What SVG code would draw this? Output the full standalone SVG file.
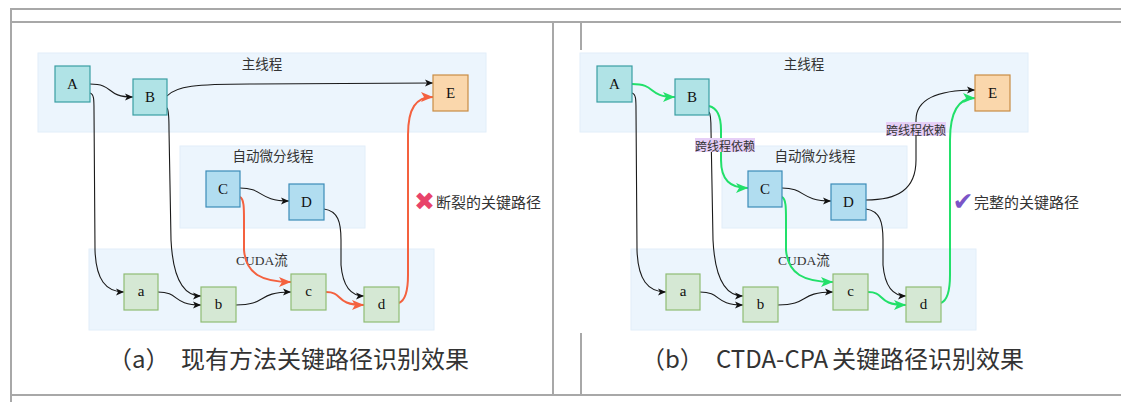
<svg xmlns="http://www.w3.org/2000/svg" width="1121" height="402" viewBox="0 0 1121 402">
<style>
.frame{stroke:#a8a8a8;stroke-width:2;fill:none}
.region{fill:#ecf5fd;stroke:#e2eef9;stroke-width:1}
.rt{font-family:"Liberation Serif","Noto Sans CJK SC",serif;font-size:13.5px;fill:#333;text-anchor:middle}
.teal{fill:#b0e3e6;stroke:#3a9ea3;stroke-width:1.2}
.blue{fill:#b1ddf0;stroke:#3b8cb8;stroke-width:1.2}
.grn{fill:#d5e8d4;stroke:#8fbc74;stroke-width:1.2}
.org{fill:#fad7ac;stroke:#c98d45;stroke-width:1.2}
.nl{font-family:"Liberation Serif",serif;font-size:15px;fill:#111;text-anchor:middle;dominant-baseline:central}
.edge{fill:none;stroke:#1a1a1a;stroke-width:1.1}
.red{fill:none;stroke:#f4613f;stroke-width:2}
.green{fill:none;stroke:#22e06a;stroke-width:2}
.tag{fill:#e6cff7}
.tagt{font-family:"Noto Sans CJK SC",sans-serif;font-size:12px;fill:#333;text-anchor:middle;dominant-baseline:central}
.leg{font-family:"Noto Sans CJK SC",sans-serif;font-size:15px;fill:#333;dominant-baseline:central}
.cap{font-family:"Noto Sans CJK SC",sans-serif;font-size:24px;fill:#333;dominant-baseline:central}
.ico{font-family:"DejaVu Sans",sans-serif;font-size:25px;text-anchor:middle;dominant-baseline:central}
</style>
<defs>
<marker id="ah" markerUnits="userSpaceOnUse" markerWidth="9" markerHeight="9" refX="8" refY="4" orient="auto"><path d="M0,0.5 L8,4 L0,7.5 L2,4 z" fill="#111"/></marker>
<marker id="ahR" markerUnits="userSpaceOnUse" markerWidth="13" markerHeight="12" refX="12" refY="5.5" orient="auto"><path d="M0,0.5 L12,5.5 L0,10.5 L3,5.5 z" fill="#f4613f"/></marker>
<marker id="ahG" markerUnits="userSpaceOnUse" markerWidth="13" markerHeight="12" refX="12" refY="5.5" orient="auto"><path d="M0,0.5 L12,5.5 L0,10.5 L3,5.5 z" fill="#22e06a"/></marker>
</defs>

<g id="frame">
<line class="frame" x1="10" y1="9" x2="1121" y2="9"/>
<line class="frame" x1="10" y1="22" x2="1121" y2="22"/>
<line class="frame" x1="10" y1="395" x2="1121" y2="395"/>
<line class="frame" x1="11" y1="9" x2="11" y2="402"/>
<line class="frame" x1="553" y1="22" x2="553" y2="395"/>
<line class="frame" x1="581" y1="22" x2="581" y2="50"/>
<line class="frame" x1="581" y1="333" x2="581" y2="395"/>
</g>

<!-- Panel (a) -->
<g id="panel-a">
<g id="a-main-thread"><rect class="region" x="38" y="53" width="448" height="79"/><text class="rt" x="262" y="69">主线程</text></g>
<g id="a-autodiff-thread"><rect class="region" x="180" y="146" width="185" height="82"/><text class="rt" x="273" y="161">自动微分线程</text></g>
<g id="a-cuda-stream"><rect class="region" x="89" y="249" width="345" height="81"/><text class="rt" x="262" y="265">CUDA流</text></g>

<g id="a-edges">
<path class="edge" d="M90,84 C115,84 105,97 133,97" marker-end="url(#ah)"/>
<path class="edge" d="M167,96 C176,86 196,84 250,84 L433,83" marker-end="url(#ah)"/>
<path class="edge" d="M90,93 C94,94 94,100 94,110 L95,250 C96,280 106,292 124,292" marker-end="url(#ah)"/>
<path class="edge" d="M167,108 C169,110 169,118 169,130 L171,240 C173,280 184,296 201,296" marker-end="url(#ah)"/>
<path class="edge" d="M158,292 C180,292 172,305 201,305" marker-end="url(#ah)"/>
<path class="edge" d="M236,305 C268,305 256,292 291,292" marker-end="url(#ah)"/>
<path class="edge" d="M240,188 C264,188 258,201 289,201" marker-end="url(#ah)"/>
<path class="edge" d="M324,209 C338,211 341,222 341,240 L341,265 C343,288 352,296 364,296" marker-end="url(#ah)"/>
<path class="red" d="M240,197 C244,199 244,208 244,220 L244,250 C246,274 262,282 291,282" marker-end="url(#ahR)"/>
<path class="red" d="M326,292 C344,292 334,305 364,305" marker-end="url(#ahR)"/>
<path class="red" d="M399,303 C406,300 408,290 408,275 L408,135 C408,108 416,97 433,97" marker-end="url(#ahR)"/>
</g>

<g id="a-A"><rect class="teal" x="55" y="66" width="35" height="36"/><text class="nl" x="72.5" y="84">A</text></g>
<g id="a-B"><rect class="teal" x="133" y="79" width="34" height="36"/><text class="nl" x="150" y="97">B</text></g>
<g id="a-E"><rect class="org" x="433" y="75" width="35" height="36"/><text class="nl" x="450.5" y="93">E</text></g>
<g id="a-C"><rect class="blue" x="206" y="171" width="34" height="36"/><text class="nl" x="223" y="189">C</text></g>
<g id="a-D"><rect class="blue" x="289" y="184" width="35" height="36"/><text class="nl" x="306.5" y="202">D</text></g>
<g id="a-a"><rect class="grn" x="124" y="274" width="34" height="36"/><text class="nl" x="141" y="291">a</text></g>
<g id="a-b"><rect class="grn" x="201" y="287" width="35" height="35"/><text class="nl" x="218.5" y="304">b</text></g>
<g id="a-c"><rect class="grn" x="291" y="274" width="35" height="36"/><text class="nl" x="308.5" y="291">c</text></g>
<g id="a-d"><rect class="grn" x="364" y="287" width="35" height="35"/><text class="nl" x="381.5" y="304">d</text></g>

<g id="a-legend"><text class="ico" x="424.5" y="201" fill="#e8436a">✖</text><text class="leg" x="436" y="201">断裂的关键路径</text></g>
<text class="cap" x="108" y="357">（a）<tspan x="181">现有方法关键路径识别效果</tspan></text>
</g>

<!-- Panel (b) -->
<g id="panel-b" transform="translate(542,0)">
<g id="b-main-thread"><rect class="region" x="38" y="53" width="448" height="79"/><text class="rt" x="262" y="69">主线程</text></g>
<g id="b-autodiff-thread"><rect class="region" x="180" y="146" width="185" height="82"/><text class="rt" x="273" y="161">自动微分线程</text></g>
<g id="b-cuda-stream"><rect class="region" x="89" y="249" width="345" height="81"/><text class="rt" x="262" y="265">CUDA流</text></g>

<g id="b-edges">
<path class="edge" d="M90,93 C94,94 94,100 94,110 L95,250 C96,280 106,292 124,292" marker-end="url(#ah)"/>
<path class="edge" d="M167,112 C169,114 169,120 169,130 L171,240 C173,280 184,296 201,296" marker-end="url(#ah)"/>
<path class="edge" d="M158,292 C180,292 172,305 201,305" marker-end="url(#ah)"/>
<path class="edge" d="M236,305 C268,305 256,292 291,292" marker-end="url(#ah)"/>
<path class="edge" d="M240,188 C264,188 258,201 289,201" marker-end="url(#ah)"/>
<path class="edge" d="M324,209 C338,211 341,222 341,240 L341,265 C343,288 352,296 364,296" marker-end="url(#ah)"/>
<path class="edge" d="M324,200 C355,200 374,190 374,160 L374,120 C374,100 395,90 433,90" marker-end="url(#ah)"/>
<path class="green" d="M90,84 C115,84 105,97 133,97" marker-end="url(#ahG)"/>
<path class="green" d="M167,106 C175,108 179,115 179,130 L179,160 C179,180 188,188 206,188" marker-end="url(#ahG)"/>
<path class="green" d="M240,197 C244,199 244,208 244,220 L244,250 C246,274 262,282 291,282" marker-end="url(#ahG)"/>
<path class="green" d="M326,292 C344,292 334,305 364,305" marker-end="url(#ahG)"/>
<path class="green" d="M399,303 C406,300 408,290 408,275 L408,140 C408,112 416,98 433,98" marker-end="url(#ahG)"/>
<g id="b-tag1"><rect class="tag" x="153" y="138" width="60" height="14"/><text class="tagt" x="183" y="145">跨线程依赖</text></g>
<g id="b-tag2"><rect class="tag" x="344" y="122" width="60" height="14"/><text class="tagt" x="374" y="129">跨线程依赖</text></g>
</g>

<g id="b-A"><rect class="teal" x="55" y="66" width="35" height="36"/><text class="nl" x="72.5" y="84">A</text></g>
<g id="b-B"><rect class="teal" x="133" y="79" width="34" height="36"/><text class="nl" x="150" y="97">B</text></g>
<g id="b-E"><rect class="org" x="433" y="75" width="35" height="36"/><text class="nl" x="450.5" y="93">E</text></g>
<g id="b-C"><rect class="blue" x="206" y="171" width="34" height="36"/><text class="nl" x="223" y="189">C</text></g>
<g id="b-D"><rect class="blue" x="289" y="184" width="35" height="36"/><text class="nl" x="306.5" y="202">D</text></g>
<g id="b-a"><rect class="grn" x="124" y="274" width="34" height="36"/><text class="nl" x="141" y="291">a</text></g>
<g id="b-b"><rect class="grn" x="201" y="287" width="35" height="35"/><text class="nl" x="218.5" y="304">b</text></g>
<g id="b-c"><rect class="grn" x="291" y="274" width="35" height="36"/><text class="nl" x="308.5" y="291">c</text></g>
<g id="b-d"><rect class="grn" x="364" y="287" width="35" height="35"/><text class="nl" x="381.5" y="304">d</text></g>

<g id="b-legend"><text class="ico" x="421" y="201" fill="#7b55c7">✔</text><text class="leg" x="432" y="201">完整的关键路径</text></g>
<text class="cap" x="99" y="357">（b）<tspan x="174">CTDA-CPA</tspan><tspan x="290">关键路径识别效果</tspan></text>
</g>
</svg>
